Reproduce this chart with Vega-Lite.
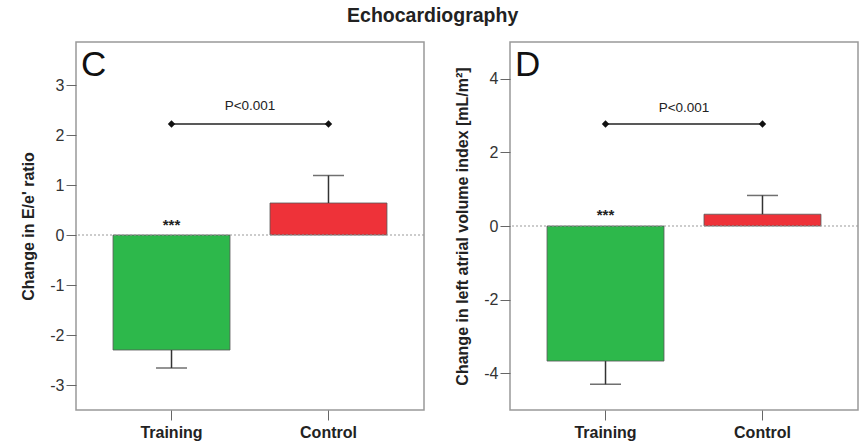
{
  "$schema": "https://vega.github.io/schema/vega-lite/v6.json",
  "background": "white",
  "padding": {"left": 20, "top": 5, "right": 5, "bottom": 5},
  "title": {"text": "Echocardiography", "fontSize": 19.5, "font": "Liberation Sans", "fontWeight": "bold", "color": "#222", "anchor": "middle", "offset": 15, "dx": -7},
  "spacing": 28,
  "config": {
    "font": "Liberation Sans",
    "view": {"stroke": "#999", "strokeWidth": 1.5},
    "axis": {"domain": false, "grid": false, "tickSize": 10, "tickColor": "#666", "labelFont": "Liberation Sans", "labelFontSize": 16, "labelColor": "#333", "labelPadding": 2, "titleFont": "Liberation Sans", "titleFontSize": 16, "titleFontWeight": "bold", "titleColor": "#222", "titlePadding": 13},
    "axisY": {"labelExpr": "replace(datum.label, '−', '-')"},
    "axisX": {"labelFontSize": 16, "labelFontWeight": "bold", "labelColor": "#222", "labelAngle": 0, "labelPadding": 4}
  },
  "datasets": {
    "C": [
      {"group": "Training", "value": -2.3, "err": -2.66},
      {"group": "Control", "value": 0.64, "err": 1.19}
    ],
    "Cbr": [
      {"group": "Training", "y": 2.22},
      {"group": "Control", "y": 2.22}
    ],
    "Cann": [
      {"kind": "p", "label": "P<0.001", "y": 2.58},
      {"kind": "star", "group": "Training", "label": "***", "y": 0.2}
    ],
    "D": [
      {"group": "Training", "value": -3.67, "err": -4.3},
      {"group": "Control", "value": 0.32, "err": 0.83}
    ],
    "Dbr": [
      {"group": "Training", "y": 2.77},
      {"group": "Control", "y": 2.77}
    ],
    "Dann": [
      {"kind": "p", "label": "P<0.001", "y": 3.21},
      {"kind": "star", "group": "Training", "label": "***", "y": 0.3}
    ]
  },
  "hconcat": [
    {
      "width": 348,
      "height": 368,
      "title": {"text": "C", "anchor": "start", "fontSize": 35, "fontWeight": "normal", "color": "#111", "offset": -41, "dx": 5, "frame": "group"},
      "layer": [
        {
          "data": {"name": "C"},
          "mark": {"type": "bar", "stroke": "#555", "strokeWidth": 0.8},
          "encoding": {
            "x": {"field": "group", "type": "nominal", "sort": ["Training", "Control"], "scale": {"paddingInner": 0.255, "paddingOuter": 0.236}, "axis": {"title": null}},
            "y": {"field": "value", "type": "quantitative", "scale": {"domain": [-3.5, 3.86], "nice": false, "zero": false}, "axis": {"values": [-3, -2, -1, 0, 1, 2, 3], "title": "Change in E/e' ratio"}},
            "color": {"field": "group", "type": "nominal", "scale": {"domain": ["Training", "Control"], "range": ["#2db84b", "#ee3239"]}, "legend": null}
          }
        },
        {
          "data": {"name": "C"},
          "mark": {"type": "rule", "color": "#333", "strokeWidth": 1.5},
          "encoding": {
            "x": {"field": "group", "type": "nominal", "sort": ["Training", "Control"]},
            "y": {"field": "value", "type": "quantitative"},
            "y2": {"field": "err"}
          }
        },
        {
          "data": {"name": "C"},
          "mark": {"type": "tick", "color": "#333", "size": 31, "thickness": 1.5},
          "encoding": {
            "x": {"field": "group", "type": "nominal", "sort": ["Training", "Control"]},
            "y": {"field": "err", "type": "quantitative"}
          }
        },
        {
          "data": {"values": [{"z": 0}]},
          "mark": {"type": "rule", "color": "#999", "strokeDash": [2, 2], "strokeWidth": 1},
          "encoding": {"y": {"field": "z", "type": "quantitative"}}
        },
        {
          "data": {"name": "Cbr"},
          "mark": {"type": "line", "color": "#222", "strokeWidth": 1.5},
          "encoding": {
            "x": {"field": "group", "type": "nominal", "sort": ["Training", "Control"]},
            "y": {"field": "y", "type": "quantitative"}
          }
        },
        {
          "data": {"name": "Cbr"},
          "mark": {"type": "point", "shape": "diamond", "filled": true, "color": "#111", "size": 55, "opacity": 1},
          "encoding": {
            "x": {"field": "group", "type": "nominal", "sort": ["Training", "Control"]},
            "y": {"field": "y", "type": "quantitative"}
          }
        },
        {
          "data": {"name": "Cann"},
          "transform": [{"filter": "datum.kind == 'p'"}],
          "mark": {"type": "text", "fontSize": 13.5, "color": "#222", "baseline": "middle"},
          "encoding": {
            "y": {"field": "y", "type": "quantitative"},
            "text": {"field": "label"}
          }
        },
        {
          "data": {"name": "Cann"},
          "transform": [{"filter": "datum.kind == 'star'"}],
          "mark": {"type": "text", "fontSize": 15, "fontWeight": "bold", "color": "#222", "baseline": "middle"},
          "encoding": {
            "x": {"field": "group", "type": "nominal", "sort": ["Training", "Control"]},
            "y": {"field": "y", "type": "quantitative"},
            "text": {"field": "label"}
          }
        }
      ]
    },
    {
      "width": 348,
      "height": 368,
      "title": {"text": "D", "anchor": "start", "fontSize": 35, "fontWeight": "normal", "color": "#111", "offset": -41, "dx": 5, "frame": "group"},
      "layer": [
        {
          "data": {"name": "D"},
          "mark": {"type": "bar", "stroke": "#555", "strokeWidth": 0.8},
          "encoding": {
            "x": {"field": "group", "type": "nominal", "sort": ["Training", "Control"], "scale": {"paddingInner": 0.255, "paddingOuter": 0.236}, "axis": {"title": null}},
            "y": {"field": "value", "type": "quantitative", "scale": {"domain": [-5, 5], "nice": false, "zero": false}, "axis": {"values": [-4, -2, 0, 2, 4], "title": "Change in left atrial volume index [mL/m²]"}},
            "color": {"field": "group", "type": "nominal", "scale": {"domain": ["Training", "Control"], "range": ["#2db84b", "#ee3239"]}, "legend": null}
          }
        },
        {
          "data": {"name": "D"},
          "mark": {"type": "rule", "color": "#333", "strokeWidth": 1.5},
          "encoding": {
            "x": {"field": "group", "type": "nominal", "sort": ["Training", "Control"]},
            "y": {"field": "value", "type": "quantitative"},
            "y2": {"field": "err"}
          }
        },
        {
          "data": {"name": "D"},
          "mark": {"type": "tick", "color": "#333", "size": 31, "thickness": 1.5},
          "encoding": {
            "x": {"field": "group", "type": "nominal", "sort": ["Training", "Control"]},
            "y": {"field": "err", "type": "quantitative"}
          }
        },
        {
          "data": {"values": [{"z": 0}]},
          "mark": {"type": "rule", "color": "#999", "strokeDash": [2, 2], "strokeWidth": 1},
          "encoding": {"y": {"field": "z", "type": "quantitative"}}
        },
        {
          "data": {"name": "Dbr"},
          "mark": {"type": "line", "color": "#222", "strokeWidth": 1.5},
          "encoding": {
            "x": {"field": "group", "type": "nominal", "sort": ["Training", "Control"]},
            "y": {"field": "y", "type": "quantitative"}
          }
        },
        {
          "data": {"name": "Dbr"},
          "mark": {"type": "point", "shape": "diamond", "filled": true, "color": "#111", "size": 55, "opacity": 1},
          "encoding": {
            "x": {"field": "group", "type": "nominal", "sort": ["Training", "Control"]},
            "y": {"field": "y", "type": "quantitative"}
          }
        },
        {
          "data": {"name": "Dann"},
          "transform": [{"filter": "datum.kind == 'p'"}],
          "mark": {"type": "text", "fontSize": 13.5, "color": "#222", "baseline": "middle"},
          "encoding": {
            "y": {"field": "y", "type": "quantitative"},
            "text": {"field": "label"}
          }
        },
        {
          "data": {"name": "Dann"},
          "transform": [{"filter": "datum.kind == 'star'"}],
          "mark": {"type": "text", "fontSize": 15, "fontWeight": "bold", "color": "#222", "baseline": "middle"},
          "encoding": {
            "x": {"field": "group", "type": "nominal", "sort": ["Training", "Control"]},
            "y": {"field": "y", "type": "quantitative"},
            "text": {"field": "label"}
          }
        }
      ]
    }
  ]
}
